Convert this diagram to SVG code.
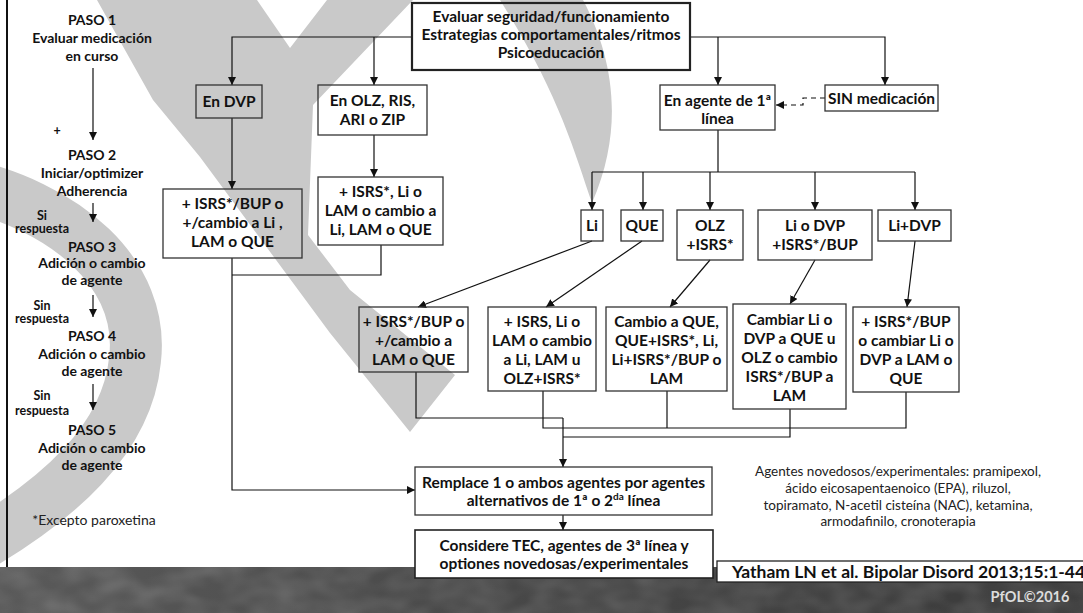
<svg xmlns="http://www.w3.org/2000/svg" width="1083" height="613" viewBox="0 0 1083 613">
  <defs>
    <style>
      .t { font-family: Lato, "Open Sans", "Liberation Sans", sans-serif; font-weight: 700; fill: #111; text-anchor: middle; }
      .box { font-size: 15.5px; }
      .side { font-size: 14px; }
      .small { font-size: 12.5px; }
      .note { font-family: Lato, "Open Sans", "Liberation Sans", sans-serif; font-weight: 400; fill: #222; text-anchor: middle; font-size: 13.5px; }
      .node { fill: none; stroke: #333; stroke-width: 1.3; }
      .conn { fill: none; stroke: #111; stroke-width: 1.2; }
      .wm { fill: #c9c9c9; }
    </style>
    <marker id="arr" viewBox="0 0 10 10" refX="10" refY="5" markerWidth="8" markerHeight="8" markerUnits="userSpaceOnUse" orient="auto">
      <path d="M0,0 L10,5 L0,10 z" fill="#111"/>
    </marker>
    <linearGradient id="band" x1="0" y1="0" x2="1" y2="0">
      <stop offset="0" stop-color="#5a5a5a"/>
      <stop offset="0.5" stop-color="#474747"/>
      <stop offset="1" stop-color="#3a3a3a"/>
    </linearGradient>
    <filter id="mottle" x="0" y="0" width="100%" height="100%">
      <feTurbulence type="fractalNoise" baseFrequency="0.03 0.05" numOctaves="2" seed="7"/>
      <feColorMatrix type="matrix" values="0 0 0 0 0.75  0 0 0 0 0.75  0 0 0 0 0.75  0.9 0 0 0 -0.25"/>
      <feComposite in2="SourceGraphic" operator="in"/>
    </filter>
  </defs>

  <rect x="0" y="0" width="1083" height="613" fill="#ffffff"/>

  <!-- background watermark shapes -->
  <g id="watermark">
    <polygon class="wm" points="97,0 257,0 290,48 327,0 413,0 313,105 308,235 350,290 455,375 410,432 330,333 200,157 153,100"/>
    <path d="M-45,182 C68,205 145,275 135,360 C127,440 58,500 -28,550" fill="none" stroke="#c9c9c9" stroke-width="52"/>
    <path class="wm" d="M500,0 L583,0 C612,55 626,125 592,203 C574,150 558,92 500,0 Z"/>
  </g>

  <!-- textured footer band -->
  <rect x="0" y="567" width="1083" height="46" fill="url(#band)"/>
  <rect x="0" y="567" width="1083" height="46" fill="#000" filter="url(#mottle)" opacity="0.3"/>

  <!-- left margin rule -->
  <line x1="7" y1="0" x2="7" y2="567" stroke="#111" stroke-width="2"/>

  <!-- step column -->
  <g id="steps">
    <text class="t side" x="92" y="25">PASO 1</text>
    <text class="t side" x="92" y="43">Evaluar medicación</text>
    <text class="t side" x="92" y="61">en curso</text>
    <text class="t small" x="57" y="135">+</text>
    <text class="t side" x="92" y="160">PASO 2</text>
    <text class="t side" x="92" y="178">Iniciar/optimizer</text>
    <text class="t side" x="92" y="196">Adherencia</text>
    <text class="t small" x="42" y="220">Si</text>
    <text class="t small" x="42" y="233">respuesta</text>
    <text class="t side" x="92" y="252">PASO 3</text>
    <text class="t side" x="92" y="268">Adición o cambio</text>
    <text class="t side" x="92" y="285">de agente</text>
    <text class="t small" x="42" y="310">Sin</text>
    <text class="t small" x="42" y="323">respuesta</text>
    <text class="t side" x="92" y="341">PASO 4</text>
    <text class="t side" x="92" y="359">Adición o cambio</text>
    <text class="t side" x="92" y="376">de agente</text>
    <text class="t small" x="42" y="400">Sin</text>
    <text class="t small" x="42" y="415">respuesta</text>
    <text class="t side" x="92" y="435">PASO 5</text>
    <text class="t side" x="92" y="453">Adición o cambio</text>
    <text class="t side" x="92" y="470">de agente</text>
    <text class="note" x="94" y="525" style="font-size:14px">*Excepto paroxetina</text>
  </g>

  <!-- connectors -->
  <g id="connectors">
    <path class="conn" d="M93,68 V140" marker-end="url(#arr)"/>
    <path class="conn" d="M93,203 V222" marker-end="url(#arr)"/>
    <path class="conn" d="M93,295 V317" marker-end="url(#arr)"/>
    <path class="conn" d="M93,384 V410" marker-end="url(#arr)"/>

    <path class="conn" d="M412,37 H232 V85" marker-end="url(#arr)"/>
    <path class="conn" d="M374,37 V85" marker-end="url(#arr)"/>
    <path class="conn" d="M690,37 H885 V85" marker-end="url(#arr)"/>
    <path class="conn" d="M718,37 V85" marker-end="url(#arr)"/>
    <path class="conn" d="M825,98 H803 V105 H776" stroke-dasharray="5,4" marker-end="url(#arr)"/>

    <path class="conn" d="M232,118 V189" marker-end="url(#arr)"/>
    <path class="conn" d="M374,135 V177" marker-end="url(#arr)"/>

    <path class="conn" d="M718,130 V172 M592,172 H915"/>
    <path class="conn" d="M592,172 V210" marker-end="url(#arr)"/>
    <path class="conn" d="M643,172 V210" marker-end="url(#arr)"/>
    <path class="conn" d="M710,172 V210" marker-end="url(#arr)"/>
    <path class="conn" d="M815,172 V210" marker-end="url(#arr)"/>
    <path class="conn" d="M915,172 V210" marker-end="url(#arr)"/>

    <path class="conn" d="M592,241 L418,307" marker-end="url(#arr)"/>
    <path class="conn" d="M642,241 L546,307" marker-end="url(#arr)"/>
    <path class="conn" d="M710,260 L670,307" marker-end="url(#arr)"/>
    <path class="conn" d="M815,260 L790,304" marker-end="url(#arr)"/>
    <path class="conn" d="M915,241 L907,307" marker-end="url(#arr)"/>

    <path class="conn" d="M381,245 V275 H232"/>
    <path class="conn" d="M232,258 V490 H415" marker-end="url(#arr)"/>

    <path class="conn" d="M416,372 V418 H563"/>
    <path class="conn" d="M543,391 V428 H906 V392"/>
    <path class="conn" d="M667,391 V428"/>
    <path class="conn" d="M790,409 V437 H563"/>
    <path class="conn" d="M563,418 V467" stroke-width="2" marker-end="url(#arr)"/>
    <path class="conn" d="M563,515 V530" marker-end="url(#arr)"/>
  </g>

  <!-- nodes -->
  <g id="n-evaluar">
    <rect x="412" y="3" width="278" height="67" fill="none" stroke="#222" stroke-width="2.2"/>
    <text class="t box" x="551" y="22">Evaluar seguridad/funcionamiento</text>
    <text class="t box" x="551" y="40">Estrategias comportamentales/ritmos</text>
    <text class="t box" x="551" y="58">Psicoeducación</text>
  </g>
  <g id="n-dvp">
    <rect class="node" x="196" y="85" width="66" height="33"/>
    <text class="t box" x="229" y="107">En DVP</text>
  </g>
  <g id="n-olz">
    <rect class="node" x="318" y="85" width="109" height="50"/>
    <text class="t box" x="372.5" y="106">En OLZ, RIS,</text>
    <text class="t box" x="372.5" y="125">ARI o ZIP</text>
  </g>
  <g id="n-agente">
    <rect class="node" x="660" y="85" width="115" height="45"/>
    <text class="t box" x="717.5" y="106">En agente de 1ª</text>
    <text class="t box" x="717.5" y="124">línea</text>
  </g>
  <g id="n-sin">
    <rect class="node" x="825" y="85" width="113" height="26"/>
    <text class="t box" x="881.5" y="104">SIN medicación</text>
  </g>

  <g id="n-dvp-next">
    <rect class="node" x="163" y="189" width="139" height="69"/>
    <text class="t box" x="232.5" y="209">+ ISRS*/BUP o</text>
    <text class="t box" x="232.5" y="228">+/cambio a Li ,</text>
    <text class="t box" x="232.5" y="247">LAM o QUE</text>
  </g>
  <g id="n-olz-next">
    <rect class="node" x="318" y="177" width="125" height="68"/>
    <text class="t box" x="380.5" y="197">+ ISRS*, Li o</text>
    <text class="t box" x="380.5" y="216">LAM o cambio a</text>
    <text class="t box" x="380.5" y="235">Li, LAM o QUE</text>
  </g>

  <g id="n-li">
    <rect class="node" x="581" y="210" width="22" height="31"/>
    <text class="t box" x="592" y="230.5">Li</text>
  </g>
  <g id="n-que">
    <rect class="node" x="621" y="210" width="42" height="31"/>
    <text class="t box" x="642" y="230.5">QUE</text>
  </g>
  <g id="n-olz-isrs">
    <rect class="node" x="677" y="210" width="66" height="50"/>
    <text class="t box" x="710" y="230.5">OLZ</text>
    <text class="t box" x="710" y="249.5">+ISRS*</text>
  </g>
  <g id="n-li-dvp">
    <rect class="node" x="758" y="210" width="114" height="50"/>
    <text class="t box" x="815" y="230.5">Li o DVP</text>
    <text class="t box" x="815" y="249.5">+ISRS*/BUP</text>
  </g>
  <g id="n-lidvp">
    <rect class="node" x="878" y="210" width="73" height="31"/>
    <text class="t box" x="914.5" y="230.5">Li+DVP</text>
  </g>

  <g id="n-a">
    <rect class="node" x="359" y="307" width="109" height="65"/>
    <text class="t box" x="413.5" y="327">+ ISRS*/BUP o</text>
    <text class="t box" x="413.5" y="346">+/cambio a</text>
    <text class="t box" x="413.5" y="365">LAM o QUE</text>
  </g>
  <g id="n-b">
    <rect class="node" x="488" y="307" width="108" height="84"/>
    <text class="t box" x="542" y="327">+ ISRS, Li o</text>
    <text class="t box" x="542" y="346">LAM o cambio</text>
    <text class="t box" x="542" y="365">a Li, LAM u</text>
    <text class="t box" x="542" y="384">OLZ+ISRS*</text>
  </g>
  <g id="n-c">
    <rect class="node" x="606" y="307" width="121" height="84"/>
    <text class="t box" x="666.5" y="327">Cambio a QUE,</text>
    <text class="t box" x="666.5" y="346">QUE+ISRS*, Li,</text>
    <text class="t box" x="666.5" y="365">Li+ISRS*/BUP o</text>
    <text class="t box" x="666.5" y="384">LAM</text>
  </g>
  <g id="n-d">
    <rect class="node" x="733" y="304" width="113" height="105"/>
    <text class="t box" x="789.5" y="325">Cambiar Li o</text>
    <text class="t box" x="789.5" y="344">DVP a QUE u</text>
    <text class="t box" x="789.5" y="363">OLZ o cambio</text>
    <text class="t box" x="789.5" y="382">ISRS*/BUP a</text>
    <text class="t box" x="789.5" y="401">LAM</text>
  </g>
  <g id="n-e">
    <rect class="node" x="853" y="307" width="106" height="85"/>
    <text class="t box" x="906" y="327">+ ISRS*/BUP</text>
    <text class="t box" x="906" y="346">o cambiar Li o</text>
    <text class="t box" x="906" y="365">DVP a LAM o</text>
    <text class="t box" x="906" y="384">QUE</text>
  </g>

  <g id="n-remplace">
    <rect class="node" x="415" y="467" width="297" height="48" stroke-width="1.6"/>
    <text class="t box" x="563.5" y="487.5">Remplace 1 o ambos agentes por agentes</text>
    <text class="t box" x="563.5" y="505.5">alternativos de 1ª o 2<tspan font-size="10" dy="-6">da</tspan><tspan dy="6"> línea</tspan></text>
  </g>
  <g id="n-considere">
    <rect x="415" y="530" width="298" height="48" fill="#fff" stroke="#222" stroke-width="1.6"/>
    <text class="t box" x="564" y="550.5">Considere TEC, agentes de 3ª línea y</text>
    <text class="t box" x="564" y="568.5">optiones novedosas/experimentales</text>
  </g>

  <g id="notes">
    <text class="note" x="898" y="476">Agentes novedosos/experimentales: pramipexol,</text>
    <text class="note" x="898" y="493">ácido eicosapentaenoico (EPA), riluzol,</text>
    <text class="note" x="898" y="509.5">topiramato, N-acetil cisteína (NAC), ketamina,</text>
    <text class="note" x="898" y="526">armodafinilo, cronoterapia</text>
  </g>

  <g id="citation">
    <rect x="717" y="561" width="380" height="21" fill="#fff" stroke="#222" stroke-width="1.3"/>
    <text class="t" x="732" y="578" style="text-anchor:start;font-size:17.5px">Yatham LN et al. Bipolar Disord 2013;15:1-44</text>
    <text class="t" x="1030" y="602" style="font-size:14.5px;fill:#dcdcdc">PfOL©2016</text>
  </g>
</svg>
